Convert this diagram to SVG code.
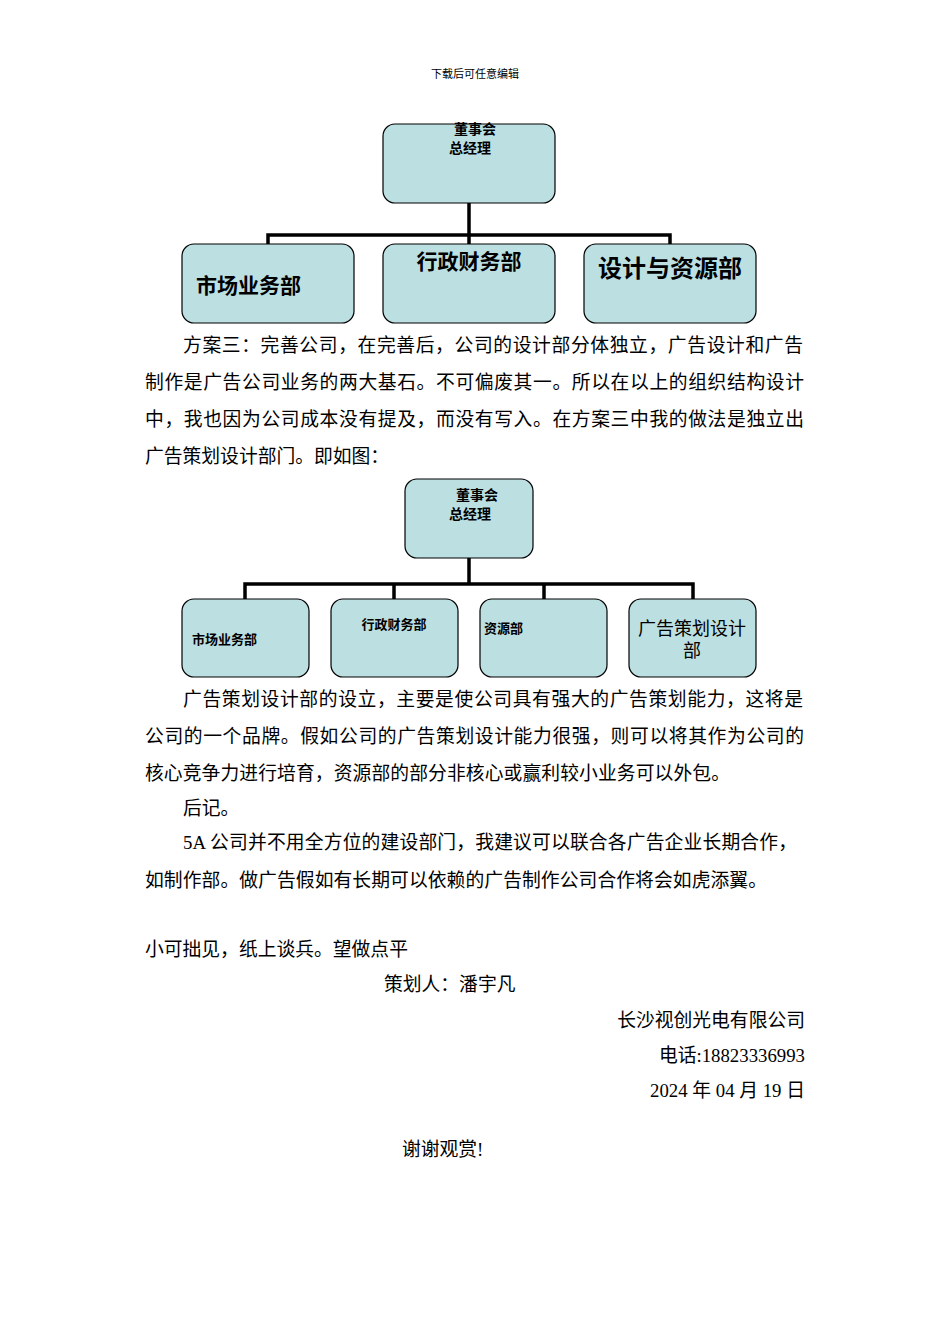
<svg xmlns="http://www.w3.org/2000/svg" width="950" height="1344" viewBox="0 0 950 1344">
<style>
.b{fill:#BCDFE2;stroke:#000;stroke-width:1.2}
.l{fill:none;stroke:#000;stroke-width:3.5}
.s{font-family:"Liberation Sans","Noto Sans CJK SC",sans-serif;fill:#000}
.t{font-family:"Liberation Serif","Noto Sans CJK SC",serif;font-size:18.8px;fill:#000}
</style>
<rect width="950" height="1344" fill="#fff"/>
<text class="s" x="475" y="78" font-size="11" text-anchor="middle">下载后可任意编辑</text>
<g id="connectors1">
<path class="l" d="M469 203V235M268 244V235H670V244M469 235V244"/>
</g>
<g id="c1-top"><rect class="b" x="383" y="124" width="172" height="79" rx="12"/><text class="s" font-size="14" font-weight="bold" x="475" y="134" text-anchor="middle">董事会</text><text class="s" font-size="14" font-weight="bold" x="470" y="153" text-anchor="middle">总经理</text></g>
<g id="c1-a"><rect class="b" x="182" y="244" width="172" height="79" rx="12"/><text class="s" font-size="21" font-weight="bold" x="196" y="293">市场业务部</text></g>
<g id="c1-b"><rect class="b" x="383" y="244" width="172" height="79" rx="12"/><text class="s" font-size="21" font-weight="bold" x="469" y="269" text-anchor="middle">行政财务部</text></g>
<g id="c1-c"><rect class="b" x="584" y="244" width="172" height="79" rx="12"/><text class="s" font-size="24" font-weight="bold" x="670" y="277" text-anchor="middle">设计与资源部</text></g>
<g class="t">
<text x="183" y="352" textLength="620" lengthAdjust="spacing">方案三：完善公司，在完善后，公司的设计部分体独立，广告设计和广告</text>
<text x="145" y="389" textLength="659" lengthAdjust="spacing">制作是广告公司业务的两大基石。不可偏废其一。所以在以上的组织结构设计</text>
<text x="145" y="426" textLength="659" lengthAdjust="spacing">中，我也因为公司成本没有提及，而没有写入。在方案三中我的做法是独立出</text>
<text x="145" y="463">广告策划设计部门。即如图：</text>
</g>
<g id="connectors2">
<path class="l" d="M469 558V584M245 599V584H693V599M394 584V599M544 584V599"/>
</g>
<g id="c2-top"><rect class="b" x="405" y="479" width="128" height="79" rx="12"/><text class="s" font-size="14" font-weight="bold" x="477" y="500" text-anchor="middle">董事会</text><text class="s" font-size="14" font-weight="bold" x="470" y="519" text-anchor="middle">总经理</text></g>
<g id="c2-a"><rect class="b" x="182" y="599" width="127" height="78" rx="12"/><text class="s" font-size="13" font-weight="bold" x="192" y="644">市场业务部</text></g>
<g id="c2-b"><rect class="b" x="331" y="599" width="127" height="78" rx="12"/><text class="s" font-size="13" font-weight="bold" x="394" y="629" text-anchor="middle">行政财务部</text></g>
<g id="c2-c"><rect class="b" x="480" y="599" width="127" height="78" rx="12"/><text class="s" font-size="13" font-weight="bold" x="484" y="633">资源部</text></g>
<g id="c2-d"><rect class="b" x="629" y="599" width="127" height="78" rx="12"/><text class="s" font-size="18" x="692" y="635" text-anchor="middle">广告策划设计</text><text class="s" font-size="18" x="692" y="657" text-anchor="middle">部</text></g>
<g class="t">
<text x="183" y="706" textLength="620" lengthAdjust="spacing">广告策划设计部的设立，主要是使公司具有强大的广告策划能力，这将是</text>
<text x="145" y="743" textLength="659" lengthAdjust="spacing">公司的一个品牌。假如公司的广告策划设计能力很强，则可以将其作为公司的</text>
<text x="145" y="780" textLength="585" lengthAdjust="spacing">核心竞争力进行培育，资源部的部分非核心或赢利较小业务可以外包。</text>
<text x="183" y="815">后记。</text>
<text x="183" y="849" textLength="614" lengthAdjust="spacing">5A 公司并不用全方位的建设部门，我建议可以联合各广告企业长期合作，</text>
<text x="145" y="887" textLength="622" lengthAdjust="spacing">如制作部。做广告假如有长期可以依赖的广告制作公司合作将会如虎添翼。</text>
<text x="145" y="956">小可拙见，纸上谈兵。望做点平</text>
<text x="384" y="991">策划人：潘宇凡</text>
<text x="805" y="1027" text-anchor="end">长沙视创光电有限公司</text>
<text x="805" y="1062" text-anchor="end">电话:18823336993</text>
<text x="805" y="1097" text-anchor="end">2024 年 04 月 19 日</text>
<text x="402" y="1156">谢谢观赏!</text>
</g>
</svg>
